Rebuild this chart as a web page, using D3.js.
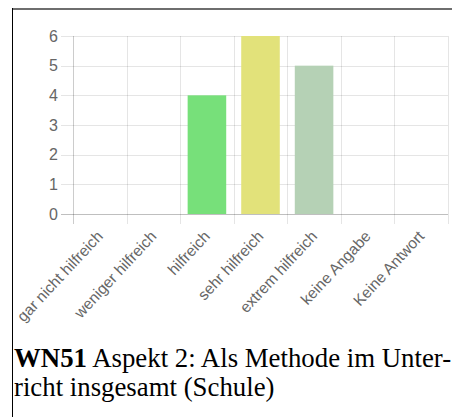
<!DOCTYPE html>
<html>
<head>
<meta charset="utf-8">
<script src="https://cdn.jsdelivr.net/npm/d3@7"></script>
<style>
  html, body { margin: 0; padding: 0; background: #fff; }
  svg { display: block; }
</style>
</head>
<body>
<svg id="chart" width="452" height="417"></svg>
<script>
// answer categories and counts
var categories = ["gar nicht hilfreich", "weniger hilfreich", "hilfreich", "sehr hilfreich", "extrem hilfreich", "keine Angabe", "Keine Antwort"];
var counts = [0, 0, 4, 6, 5, 0, 0];
var barColours = ["#77e07a", "#77e07a", "#77e07a", "#e2e27a", "#b5d1b5", "#cccccc", "#cccccc"];
var yTicks = [0, 1, 2, 3, 4, 5, 6];
var captionBold = "WN51";
var captionLines = [" Aspekt 2: Als Methode im Unter-", "richt insgesamt (Schule)"];

var svg = d3.select("#chart");

var plot = {left: 73, right: 448, top: 36, bottom: 214};

var x = d3.scaleBand()
    .domain(categories)
    .range([plot.left, plot.right])
    .padding(0);

var y = d3.scaleLinear()
    .domain([0, 6])
    .range([plot.bottom, plot.top]);

// frame lines
svg.append("line")
    .attr("x1", 12).attr("x2", 452).attr("y1", 9).attr("y2", 9)
    .attr("stroke", "#6e6e6e").attr("stroke-width", 2);
svg.append("line")
    .attr("x1", 12.5).attr("x2", 12.5).attr("y1", 8).attr("y2", 417)
    .attr("stroke", "#000").attr("stroke-width", 1);

// horizontal gridlines + y labels
var yg = svg.append("g");
yTicks.forEach(function(t){
    yg.append("line")
        .attr("x1", plot.left - 12).attr("x2", plot.right)
        .attr("y1", Math.round(y(t)) + 0.5).attr("y2", Math.round(y(t)) + 0.5)
        .attr("stroke", t === 0 ? "rgba(0,0,0,0.25)" : "rgba(0,0,0,0.1)");
    yg.append("text")
        .attr("x", 58).attr("y", y(t))
        .attr("dy", "0.36em")
        .attr("text-anchor", "end")
        .attr("fill", "#666")
        .style("font", "16px 'Liberation Sans', Arial, sans-serif")
        .text(t);
});

// vertical gridlines at band edges
var edges = categories.map(function(c){ return x(c); }).concat([plot.right]);
edges.forEach(function(e, i){
    svg.append("line")
        .attr("x1", Math.round(e) + 0.5).attr("x2", Math.round(e) + 0.5)
        .attr("y1", plot.top).attr("y2", plot.bottom + 10)
        .attr("stroke", i === 0 ? "rgba(0,0,0,0.2)" : "rgba(0,0,0,0.1)");
});

// bars
var bw = x.bandwidth() * 0.72;
svg.append("g").selectAll("rect")
    .data(counts)
    .enter()
    .append("rect")
    .attr("x", function(d, i){ return x(categories[i]) + (x.bandwidth() - bw) / 2; })
    .attr("y", function(d){ return y(d); })
    .attr("width", bw)
    .attr("height", function(d){ return y(0) - y(d); })
    .attr("fill", function(d, i){ return barColours[i]; });

// rotated x labels
svg.append("g").selectAll("text")
    .data(categories)
    .enter()
    .append("text")
    .attr("text-anchor", "end")
    .attr("fill", "#666")
    .style("font", "15.5px 'Liberation Sans', Arial, sans-serif")
    .attr("transform", function(d){
        return "translate(" + (x(d) + x.bandwidth() / 2 + 4) + "," + (plot.bottom + 23) + ") rotate(-47)";
    })
    .text(function(d){ return d; });

// caption
var cap = svg.append("text")
    .attr("x", 14).attr("y", 367)
    .attr("fill", "#000")
    .style("font", "26.8px 'Liberation Serif', 'Times New Roman', serif");
cap.append("tspan").attr("font-weight", "bold").text(captionBold);
cap.append("tspan").text(captionLines[0]);
cap.append("tspan").attr("x", 14).attr("dy", 29).text(captionLines[1]);
</script>
</body>
</html>
